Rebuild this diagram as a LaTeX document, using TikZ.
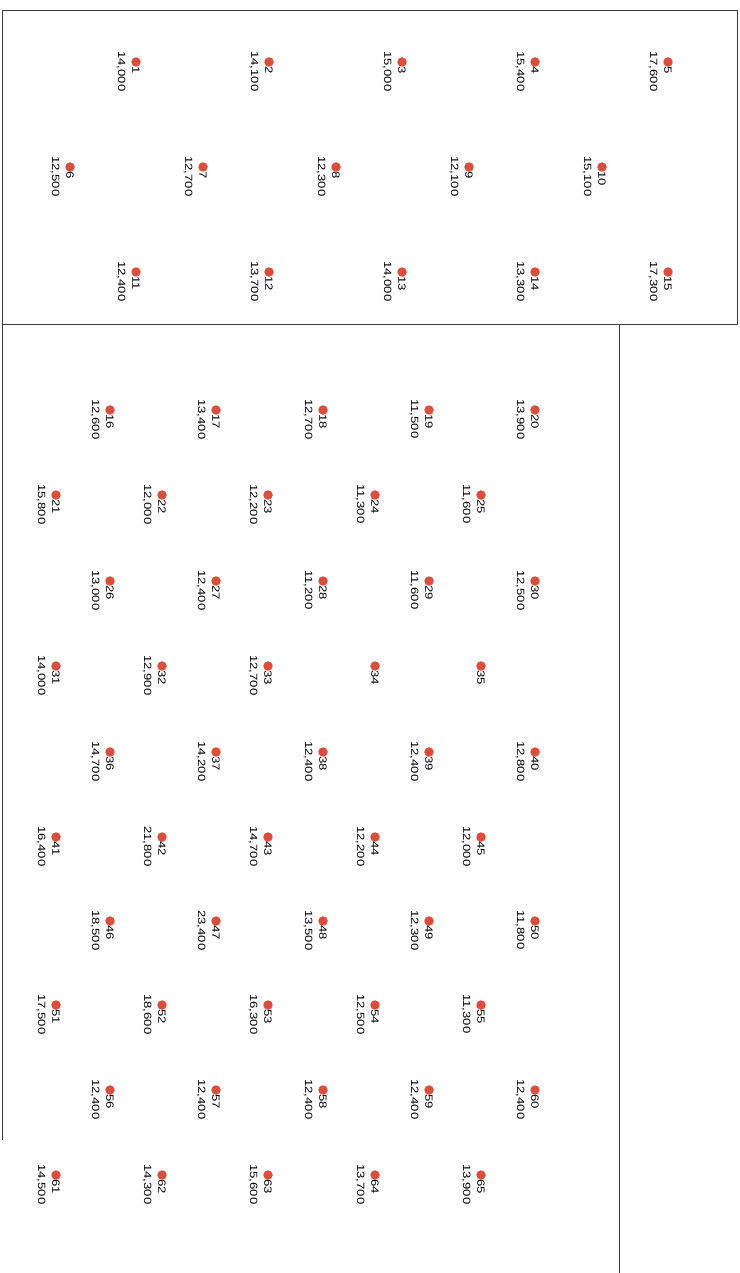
\documentclass[tikz,border=0pt]{standalone}
\usepackage{graphicx}
\usepackage{fontspec}
\setmainfont{Liberation Sans}
\definecolor{dotred}{RGB}{218,78,62}
\definecolor{framegray}{RGB}{60,60,60}
\tikzset{
  dotmark/.style={circle,fill=dotred,draw=none,inner sep=0pt,minimum size=9.5pt},
  numlabel/.style={rotate=-90,anchor=west,inner sep=0pt,font=\fontsize{10.5}{12}\selectfont},
  vallabel/.style={rotate=-90,anchor=west,inner sep=0pt,font=\fontsize{10.5}{12}\selectfont},
  frameline/.style={draw=framegray,line width=0.9pt}
}
\newcommand{\stretchtxt}[1]{\scalebox{1.25}[1]{#1}}
\newcommand{\mypt}[4]{%
  \node[numlabel] (n#3) at (#1,#2+4) {\stretchtxt{#3}};
  \node[vallabel] (v#3) at (#1-15,#2-11) {\stretchtxt{#4}};
  \node[dotmark] (d#3) at (#1,#2) {};
}
\newcommand{\myptnoval}[3]{%
  \node[numlabel] (n#3) at (#1,#2+4) {\stretchtxt{#3}};
  \node[dotmark] (d#3) at (#1,#2) {};
}
\begin{document}
\begin{tikzpicture}[x=1pt,y=-1pt]
\useasboundingbox (0,0) rectangle (739,1273);
% frames
\draw[frameline] (2,10) -- (737,10) -- (737,324) -- (2,324);
\draw[frameline] (2,10) -- (2,1140);
\draw[frameline] (619,324) -- (619,1273);
% top block
\mypt{136}{62}{1}{14,000}
\mypt{269}{62}{2}{14,100}
\mypt{402}{62}{3}{15,000}
\mypt{535}{62}{4}{15,400}
\mypt{668}{62}{5}{17,600}
\mypt{70}{167}{6}{12,500}
\mypt{203}{167}{7}{12,700}
\mypt{336}{167}{8}{12,300}
\mypt{469}{167}{9}{12,100}
\mypt{602}{167}{10}{15,100}
\mypt{136}{272}{11}{12,400}
\mypt{269}{272}{12}{13,700}
\mypt{402}{272}{13}{14,000}
\mypt{535}{272}{14}{13,300}
\mypt{668}{272}{15}{17,300}
% lower block
\mypt{110}{410}{16}{12,600}
\mypt{216}{410}{17}{13,400}
\mypt{323}{410}{18}{12,700}
\mypt{429}{410}{19}{11,500}
\mypt{535}{410}{20}{13,900}
\mypt{56}{495}{21}{15,800}
\mypt{162}{495}{22}{12,000}
\mypt{268}{495}{23}{12,200}
\mypt{375}{495}{24}{11,300}
\mypt{481}{495}{25}{11,600}
\mypt{110}{581}{26}{13,000}
\mypt{216}{581}{27}{12,400}
\mypt{323}{581}{28}{11,200}
\mypt{429}{581}{29}{11,600}
\mypt{535}{581}{30}{12,500}
\mypt{56}{666}{31}{14,000}
\mypt{162}{666}{32}{12,900}
\mypt{268}{666}{33}{12,700}
\myptnoval{375}{666}{34}
\myptnoval{481}{666}{35}
\mypt{110}{752}{36}{14,700}
\mypt{216}{752}{37}{14,200}
\mypt{323}{752}{38}{12,400}
\mypt{429}{752}{39}{12,400}
\mypt{535}{752}{40}{12,800}
\mypt{56}{837}{41}{16,400}
\mypt{162}{837}{42}{21,800}
\mypt{268}{837}{43}{14,700}
\mypt{375}{837}{44}{12,200}
\mypt{481}{837}{45}{12,000}
\mypt{110}{921}{46}{18,500}
\mypt{216}{921}{47}{23,400}
\mypt{323}{921}{48}{13,500}
\mypt{429}{921}{49}{12,300}
\mypt{535}{921}{50}{11,800}
\mypt{56}{1005}{51}{17,500}
\mypt{162}{1005}{52}{18,600}
\mypt{268}{1005}{53}{16,300}
\mypt{375}{1005}{54}{12,500}
\mypt{481}{1005}{55}{11,300}
\mypt{110}{1090}{56}{12,400}
\mypt{216}{1090}{57}{12,400}
\mypt{323}{1090}{58}{12,400}
\mypt{429}{1090}{59}{12,400}
\mypt{535}{1090}{60}{12,400}
\mypt{56}{1175}{61}{14,500}
\mypt{162}{1175}{62}{14,300}
\mypt{268}{1175}{63}{15,600}
\mypt{375}{1175}{64}{13,700}
\mypt{481}{1175}{65}{13,900}
\end{tikzpicture}
\end{document}
